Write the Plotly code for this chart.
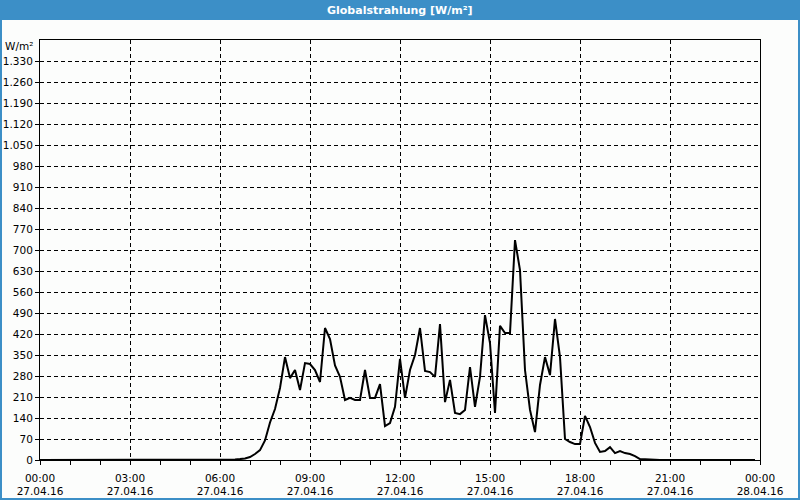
import pandas as pd
import plotly.graph_objects as go

# 10-minute values, 27.04.2016 00:00 .. 23:50
times = pd.date_range("2016-04-27 00:00", periods=144, freq="10min")
radiation = (
    [0] * 38
    + [1, 2, 3, 5, 10, 20, 33, 65, 125, 170, 240, 343,
       273, 300, 233, 323, 320, 300, 260, 440, 403, 315, 277, 200,
       207, 200, 200, 300, 207, 207, 253, 113, 123, 177, 337, 207,
       300, 350, 440, 297, 293, 277, 453, 193, 267, 157, 153, 167,
       310, 177, 277, 483, 390, 157, 447, 423, 423, 733, 633, 300,
       167, 93, 250, 343, 283, 470, 343, 70, 60, 53, 53, 147,
       110, 57, 27, 30, 43, 23, 30, 23, 20, 13, 3, 2]
    + [0] * 22
)

x_tickvals = pd.date_range("2016-04-27 00:00", periods=9, freq="3h")
x_ticktext = [
    "00:00<br>27.04.16", "03:00<br>27.04.16", "06:00<br>27.04.16",
    "09:00<br>27.04.16", "12:00<br>27.04.16", "15:00<br>27.04.16",
    "18:00<br>27.04.16", "21:00<br>27.04.16", "00:00<br>28.04.16",
]
y_tickvals = list(range(0, 1331, 70))

title_text = "Globalstrahlung [W/m²]"
unit_text = "W/m²"

BLUE = "#3c8fc7"
BG = "#fcfdfc"
FONT = "DejaVu Sans"

fig = go.Figure()
fig.add_trace(go.Scatter(
    x=times, y=radiation, mode="lines",
    line=dict(color="black", width=2), hoverinfo="skip", showlegend=False,
))

W, H = 800, 500
L, R, T, B = 40, 40, 40, 40
pw, ph = W - L - R, H - T - B


def px_x(px):
    return (px - L) / pw


def px_y(py):
    return (H - B - py) / ph


shapes = [
    # title bar
    dict(type="rect", xref="paper", yref="paper",
         x0=px_x(0), x1=px_x(W), y0=px_y(20), y1=px_y(0),
         fillcolor=BLUE, line=dict(width=0), layer="below"),
    # outer frame
    dict(type="rect", xref="paper", yref="paper",
         x0=px_x(1), x1=px_x(W - 1), y0=px_y(H - 1), y1=px_y(1),
         fillcolor="rgba(0,0,0,0)", line=dict(color=BLUE, width=2), layer="below"),
]

fig.update_layout(
    width=W, height=H,
    margin=dict(l=L, r=R, t=T, b=B, autoexpand=False),
    paper_bgcolor=BG, plot_bgcolor=BG,
    separators=",.",
    font=dict(family=FONT, size=10, color="black"),
    shapes=shapes,
    annotations=[
        dict(text="<b>" + title_text + "</b>", xref="paper", yref="paper",
             x=0.5, y=px_y(10), xanchor="center", yanchor="middle",
             showarrow=False, font=dict(family=FONT, size=11, color="white")),
        dict(text=unit_text, xref="paper", yref="paper",
             x=px_x(35), y=px_y(46), xanchor="right", yanchor="middle",
             showarrow=False, font=dict(family=FONT, size=10.5, color="black")),
    ],
    xaxis=dict(
        type="date", automargin=False,
        range=[x_tickvals[0], x_tickvals[-1]],
        tickmode="array", tickvals=x_tickvals, ticktext=x_ticktext,
        showgrid=True, gridcolor="black", gridwidth=1, griddash="4px,3px",
        showline=True, linecolor="black", linewidth=1, mirror=True,
        ticks="outside", ticklen=4, tickcolor="black",
        ticklabelstandoff=4,
        minor=dict(dtick=3600000, ticks="outside", ticklen=4, tickcolor="black", showgrid=False),
        zeroline=False, fixedrange=True,
        tickfont=dict(size=10.5),
    ),
    yaxis=dict(
        automargin=False,
        range=[0, 1400],
        tickmode="array", tickvals=y_tickvals,
        separatethousands=True,
        showgrid=True, gridcolor="black", gridwidth=1, griddash="4px,3px",
        showline=True, linecolor="black", linewidth=1, mirror=True,
        ticks="outside", ticklen=4, tickcolor="black",
        zeroline=False, fixedrange=True,
        tickfont=dict(size=10.5),
    ),
)

fig.write_html("out.html")
